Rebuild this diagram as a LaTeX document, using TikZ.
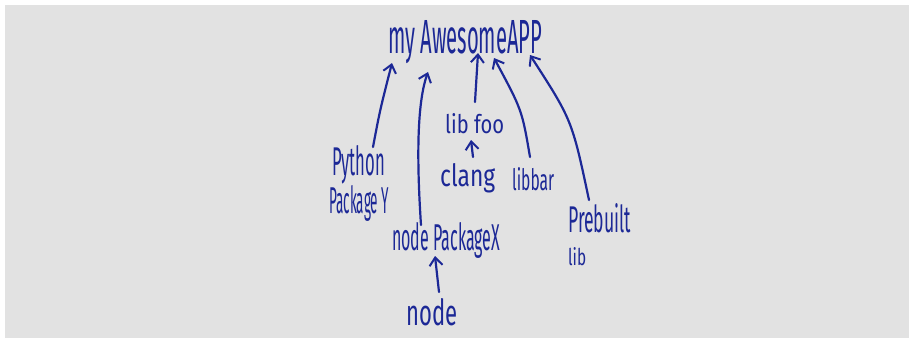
\documentclass[tikz,border=0pt]{standalone}
\usepackage{fontspec}
\usepackage{graphicx}
\usetikzlibrary{arrows.meta}
\newfontfamily\hand{Fira Sans}
\definecolor{ink}{RGB}{28,40,150}
\definecolor{board}{RGB}{226,226,226}
\newcommand{\hw}[3]{\resizebox{#1pt}{#2pt}{\hand #3}}
\tikzset{
  lbl/.style={inner sep=0pt, anchor=base west, text=ink},
  arr/.style={draw=ink, line width=2.2pt, line cap=round, -{Straight Barb[length=8pt,width=13pt,line width=2pt]}}
}
\begin{document}
\begin{tikzpicture}[x=1pt,y=-1pt]
\fill[white] (0,0) rectangle (914,343);
\fill[board] (5,5) rectangle (909,338);
\useasboundingbox (0,0) rectangle (914,343);

\node[lbl] (app) at (388,53) {\hw{154}{33}{my AwesomeAPP}};
\node[lbl] (py1) at (332,175) {\hw{53}{30}{Python}};
\node[lbl] (py2) at (329,213) {\hw{60}{28}{Package Y}};
\node[lbl] (foo) at (445,133) {\hw{59}{20}{lib foo}};
\node[lbl] (clang) at (440,186) {\hw{55}{23}{clang}};
\node[lbl] (bar) at (512,190) {\hw{42}{23}{libbar}};
\node[lbl] (npx) at (392,250) {\hw{108}{28}{node PackageX}};
\node[lbl] (node) at (406,325) {\hw{51}{27}{node}};
\node[lbl] (pb1) at (568,232) {\hw{63}{29}{Prebuilt}};
\node[lbl] (pb2) at (568,265) {\hw{18}{18}{lib}};

\coordinate (pyS) at (373,147);  \coordinate (pyE) at (392,63);
\coordinate (npxS) at (421,225); \coordinate (npxE) at (428,72);
\coordinate (fooS) at (475,102); \coordinate (fooE) at (478,53);
\coordinate (clS) at (473,157);  \coordinate (clE) at (471,140);
\coordinate (barS) at (530,157); \coordinate (barE) at (494,58);
\coordinate (pbS) at (589,200);  \coordinate (pbE) at (530,55);
\coordinate (ndS) at (439,292);  \coordinate (ndE) at (435,256);

\draw[arr] (pyS) .. controls (380,110) .. (pyE);
\draw[arr] (npxS) .. controls (416,150) and (418,100) .. (npxE);
\draw[arr] (fooS) -- (fooE);
\draw[arr] (clS) -- (clE);
\draw[arr] (barS) .. controls (522,110) .. (barE);
\draw[arr] (pbS) .. controls (572,120) .. (pbE);
\draw[arr] (ndS) -- (ndE);
\end{tikzpicture}
\end{document}
